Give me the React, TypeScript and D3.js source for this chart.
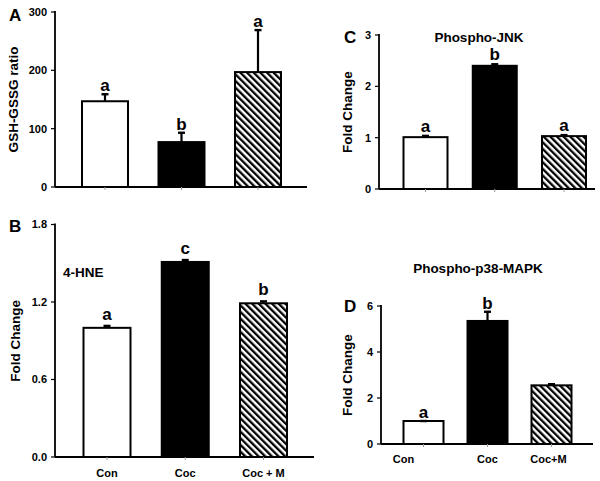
import React from "react";
import * as d3 from "d3";

const categoriesB = ["Con", "Coc", "Coc + M"];
const categoriesD = ["Con", "Coc", "Coc+M"];

const gshMeans = [147, 77, 197];
const gshErr = [12, 16, 72];
const gshLetters = ["a", "b", "a"];
const gshTicks = [0, 100, 200, 300];

const hneMeans = [1.0, 1.51, 1.19];
const hneErr = [0.015, 0.015, 0.015];
const hneLetters = ["a", "c", "b"];
const hneTicks = [0, 0.6, 1.2, 1.8];

const jnkMeans = [1.01, 2.4, 1.03];
const jnkErr = [0.025, 0.03, 0.02];
const jnkLetters = ["a", "b", "a"];
const jnkTicks = [0, 1, 2, 3];

const p38Means = [1.0, 5.35, 2.55];
const p38Err = [0.0, 0.4, 0.05];
const p38Letters = ["a", "b", ""];
const p38Ticks = [0, 2, 4, 6];

const FONT = "'Liberation Sans', Arial, Helvetica, sans-serif";
const fills = ["white", "black", "url(#hatch)"];

type PanelProps = {
  id: string;
  panelLetter: string;
  letterPos: [number, number];
  axisX: number;
  axisRight: number;
  yTop: number;
  yZero: number;
  max: number;
  ticks: number[];
  fmt: (v: number) => string;
  firstCenter: number;
  lastCenter: number;
  barWidth: number;
  means: number[];
  errs: number[];
  letters: string[];
  letterGap: number;
  yLabel: string;
  yLabelX: number;
  title?: string;
  titlePos?: [number, number];
  titleAnchor?: "start" | "middle";
  xLabels?: string[];
  xLabelY?: number;
  xLabelOffsets?: number[];
};

function Panel(p: PanelProps) {
  const y = d3.scaleLinear().domain([0, p.max]).range([p.yZero, p.yTop]);
  const cats = p.means.map((_, i) => String(i));
  const x = d3.scalePoint().domain(cats).range([p.firstCenter, p.lastCenter]);
  const yMid = (p.yTop + p.yZero) / 2;
  return (
    <g>
      {p.means.map((m, i) => {
        const cx = x(String(i))!;
        return (
          <rect
            key={"bar" + i}
            x={cx - p.barWidth / 2}
            y={y(m)}
            width={p.barWidth}
            height={p.yZero - y(m)}
            fill={fills[i]}
            stroke="black"
            strokeWidth={2}
          />
        );
      })}
      {p.means.map((m, i) => {
        const cx = x(String(i))!;
        const top = y(m + p.errs[i]);
        return (
          <g key={"err" + i}>
            <line x1={cx} x2={cx} y1={y(m)} y2={top} stroke="black" strokeWidth={2.2} />
            <line x1={cx - 3.5} x2={cx + 3.5} y1={top} y2={top} stroke="black" strokeWidth={2.4} />
          </g>
        );
      })}
      {p.means.map((m, i) => {
        const cx = x(String(i))!;
        const top = y(m + p.errs[i]);
        return (
          <text
            key={"let" + i}
            x={cx}
            y={top - p.letterGap}
            textAnchor="middle"
            fontFamily={FONT}
            fontWeight="bold"
            fontSize={17}
          >
            {p.letters[i]}
          </text>
        );
      })}
      <line x1={p.axisX} x2={p.axisX} y1={p.yTop - 1} y2={p.yZero} stroke="black" strokeWidth={1.8} />
      {p.ticks.map((t) => (
        <g key={"t" + t}>
          <line x1={p.axisX - 4} x2={p.axisX} y1={y(t)} y2={y(t)} stroke="black" strokeWidth={1.2} />
          <text
            x={p.axisX - 8}
            y={y(t)}
            dy="0.35em"
            textAnchor="end"
            fontFamily={FONT}
            fontWeight="bold"
            fontSize={11}
          >
            {p.fmt(t)}
          </text>
        </g>
      ))}
      <line x1={p.axisX} x2={p.axisRight} y1={p.yZero} y2={p.yZero} stroke="black" strokeWidth={2} />
      {p.means.map((_, i) => {
        const cx = x(String(i))!;
        return (
          <line key={"xt" + i} x1={cx} x2={cx} y1={p.yZero} y2={p.yZero + 3} stroke="#999" strokeWidth={1} />
        );
      })}
      {p.xLabels &&
        p.xLabels.map((l, i) => (
          <text
            key={"xl" + i}
            x={x(String(i))! + (p.xLabelOffsets ? p.xLabelOffsets[i] : 0)}
            y={p.xLabelY}
            dy="0.35em"
            textAnchor="middle"
            fontFamily={FONT}
            fontWeight="bold"
            fontSize={11}
          >
            {l}
          </text>
        ))}
      <text
        transform={`translate(${p.yLabelX},${yMid}) rotate(-90)`}
        textAnchor="middle"
        dy="0.35em"
        fontFamily={FONT}
        fontWeight="bold"
        fontSize={13.5}
      >
        {p.yLabel}
      </text>
      <text
        x={p.letterPos[0]}
        y={p.letterPos[1]}
        dy="0.35em"
        fontFamily={FONT}
        fontWeight="bold"
        fontSize={17}
      >
        {p.panelLetter}
      </text>
      {p.title && p.titlePos && (
        <text
          x={p.titlePos[0]}
          y={p.titlePos[1]}
          dy="0.35em"
          textAnchor={p.titleAnchor || "middle"}
          fontFamily={FONT}
          fontWeight="bold"
          fontSize={13.5}
        >
          {p.title}
        </text>
      )}
    </g>
  );
}

export default function App() {
  const f0 = d3.format("d");
  const f1 = d3.format(".1f");
  return (
    <svg
      width={600}
      height={481}
      style={{ position: "absolute", left: 0, top: 0, background: "white" }}
    >
      <defs>
        <pattern
          id="hatch"
          patternUnits="userSpaceOnUse"
          width={4.7}
          height={4.7}
          patternTransform="rotate(-45)"
        >
          <rect width={4.7} height={4.7} fill="white" />
          <rect x={0} y={0} width={2.3} height={4.7} fill="black" />
        </pattern>
      </defs>
      <rect width={600} height={481} fill="white" />
      <Panel
        id="A"
        panelLetter="A"
        letterPos={[9, 15]}
        axisX={55}
        axisRight={307}
        yTop={12}
        yZero={187}
        max={300}
        ticks={gshTicks}
        fmt={f0}
        firstCenter={105}
        lastCenter={258}
        barWidth={46}
        means={gshMeans}
        errs={gshErr}
        letters={gshLetters}
        letterGap={3}
        yLabel="GSH-GSSG ratio"
        yLabelX={13}
      />
      <Panel
        id="B"
        panelLetter="B"
        letterPos={[9, 226]}
        axisX={55}
        axisRight={314}
        yTop={224.5}
        yZero={457}
        max={1.8}
        ticks={hneTicks}
        fmt={f1}
        firstCenter={107}
        lastCenter={263.5}
        barWidth={47}
        means={hneMeans}
        errs={hneErr}
        letters={hneLetters}
        letterGap={6}
        yLabel="Fold Change"
        yLabelX={15}
        title="4-HNE"
        titlePos={[63, 272]}
        titleAnchor="start"
        xLabels={categoriesB}
        xLabelY={473}
      />
      <Panel
        id="C"
        panelLetter="C"
        letterPos={[344, 37]}
        axisX={379}
        axisRight={595}
        yTop={35}
        yZero={189}
        max={3}
        ticks={jnkTicks}
        fmt={f0}
        firstCenter={425.5}
        lastCenter={564}
        barWidth={44}
        means={jnkMeans}
        errs={jnkErr}
        letters={jnkLetters}
        letterGap={4}
        yLabel="Fold Change"
        yLabelX={347}
        title="Phospho-JNK"
        titlePos={[479, 37]}
      />
      <Panel
        id="D"
        panelLetter="D"
        letterPos={[344, 306]}
        axisX={381}
        axisRight={593}
        yTop={306}
        yZero={444}
        max={6}
        ticks={p38Ticks}
        fmt={f0}
        firstCenter={423.5}
        lastCenter={551.5}
        barWidth={40}
        means={p38Means}
        errs={p38Err}
        letters={p38Letters}
        letterGap={3}
        yLabel="Fold Change"
        yLabelX={347}
        title="Phospho-p38-MAPK"
        titlePos={[478, 268]}
        xLabels={categoriesD}
        xLabelY={459}
        xLabelOffsets={[-20, 0, -3]}
      />
    </svg>
  );
}
